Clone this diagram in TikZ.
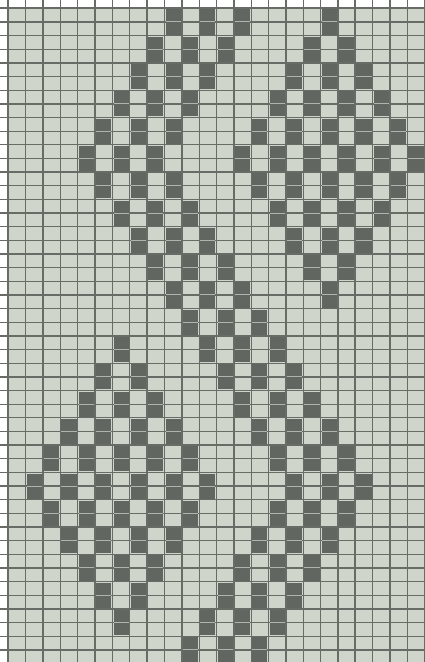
\documentclass[tikz,border=0pt]{standalone}
\definecolor{paper}{RGB}{208,213,203}
\definecolor{ink}{RGB}{98,102,97}
\definecolor{gridc}{RGB}{104,108,102}
\definecolor{halo}{RGB}{176,180,173}
\begin{document}
\begin{tikzpicture}[x=1pt,y=-1pt,
  gridline/.style={draw=gridc,line width=1.3pt},
  heavyline/.style={draw=gridc,line width=2.3pt},
  knit/.style={fill=ink},
  midline/.style={draw=halo,line width=1pt}]
\useasboundingbox (0,0) rectangle (425,662);
\clip (0,0) rectangle (425,662);
\fill[white] (0,0) rectangle (425,662);
\fill[paper] (8.3,8.3) rectangle (425,662);
% grid lines
\foreach \k in {0,...,24}{
  \pgfmathsetmacro{\gx}{8.3+17.35*\k}
  \draw[gridline] (\gx,0) -- (\gx,662);
}
\foreach \k in {0,5,10,20}{
  \pgfmathsetmacro{\gx}{8.3+17.35*\k}
  \draw[heavyline] (\gx,0) -- (\gx,662);
}
\foreach \k in {0,...,48}{
  \pgfmathsetmacro{\gy}{8.3+13.65*\k}
  \draw[gridline] (0,\gy) -- (425,\gy);
}
\draw[heavyline] (0,8.3) -- (425,8.3);
% dark stitches (each spans two rows)
\foreach \p in {0,...,23}{
  \foreach \c in {0,...,23}{
    \pgfmathtruncatemacro{\da}{abs(\c-18)+abs(\p-5)}
    \pgfmathtruncatemacro{\db}{abs(\c-6)+abs(\p-17)}
    \pgfmathtruncatemacro{\bandL}{\p<11 ? 4+abs(\p-5) : 16-abs(\p-17)}
    \pgfmathtruncatemacro{\isdark}{((\da==1)||(\da==3)||(\da==5)||(\db==1)||(\db==3)||(\db==5)||(\c==\bandL)||(\c==\bandL+2)||(\c==\bandL+4)) ? 1 : 0}
    \ifnum\isdark=1
      \pgfmathsetmacro{\xa}{8.3+17.35*\c+1.1}
      \pgfmathsetmacro{\xb}{8.3+17.35*(\c+1)-1.1}
      \pgfmathsetmacro{\ya}{8.3+13.65*(2*\p)+1.1}
      \pgfmathsetmacro{\yb}{8.3+13.65*(2*\p+2)-1.1}
      \pgfmathsetmacro{\ym}{8.3+13.65*(2*\p+1)}
      \fill[knit] (\xa,\ya) rectangle (\xb,\yb);
      \draw[midline] (\xa,\ym) -- (\xb,\ym);
    \fi
  }
}
\end{tikzpicture}
\end{document}
